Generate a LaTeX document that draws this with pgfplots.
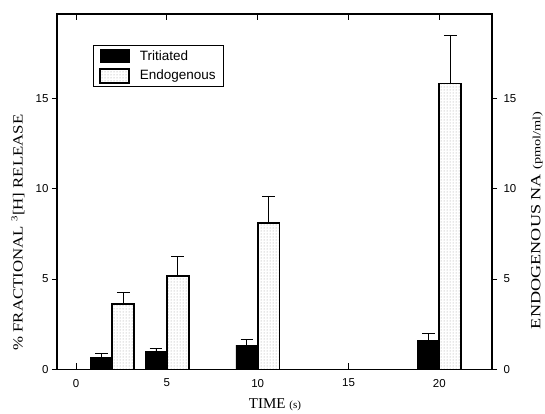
\documentclass[border=0pt]{standalone}
\usepackage{pgfplots}
\pgfplotsset{compat=1.18}
\usepackage{pgfplotstable}
\usepackage{fontspec}
\setmainfont{Liberation Sans}
\newfontfamily\labelfont{Liberation Serif}
\usetikzlibrary{patterns}

% time (s), mean release, upper error
\pgfplotstableread{
t   y     ey
2   0.67  0.23
5   1.00  0.17
10  1.35  0.32
20  1.63  0.37
}\tritiated
\pgfplotstableread{
t   y     ey
2   3.60  0.67
5   5.17  1.10
10  8.08  1.51
20  15.81 2.63
}\endogenous

\pgfplotsset{
  common/.style={
    width=435pt, height=355.5pt, scale only axis,
    xmin=-1.05, xmax=22.9, ymin=0, ymax=19.65,
    axis line style={line width=1.1pt},
    tick style={line width=0.9pt, black},
    /pgf/number format/assume math mode=true,
    ticklabel style={font=\fontsize{11.5}{13}\selectfont},
  },
}

\begin{document}
\begin{tikzpicture}
% bars, x axis and legend
\begin{axis}[common,
  clip=false,
  ybar, bar width=1.2,
  xtick={0,5,10,15,20}, ytick=\empty,
  tick align=inside, major tick length=6pt,
  xticklabel style={yshift=-6pt},
  legend style={at={(0.082,0.913)}, anchor=north west, draw=black,
    line width=0.9pt, font=\fontsize{13.5}{15}\selectfont,
    inner xsep=6pt, inner ysep=3pt, row sep=4.5pt,
    /tikz/every odd column/.append style={column sep=8pt}},
  legend cell align=left,
  legend image code/.code={\draw[#1] (0pt,-6.8pt) rectangle (29pt,6.8pt);},
  error bars/y dir=plus, error bars/y explicit,
  error bars/error bar style={line width=0.8pt, black},
  error bars/error mark options={rotate=90, line width=0.8pt, mark size=6.3pt, black},
]
\addplot[fill=black, draw=black, line width=0.8pt, bar shift=-0.6]
  table[x=t, y=y, y error=ey] {\tritiated};
\addlegendentry{Tritiated}
\addplot[draw=black, line width=1.8pt, pattern=dots, pattern color=black!40, bar shift=0.6]
  table[x=t, y=y, y error=ey] {\endogenous};
\addlegendentry{Endogenous}
\coordinate (sw) at (rel axis cs:0,0);
\coordinate (ne) at (rel axis cs:1,1);
\node[font=\labelfont\fontsize{14}{16}\selectfont, rotate=90] at (rel axis cs:-0.0897,0.385)
  {\scalebox{1.2}[1]{\% FRACTIONAL \textsuperscript{\fontsize{9}{10}\selectfont 3}[H] RELEASE}};
\node[font=\labelfont] at (rel axis cs:0.501,-0.0999)
  {\fontsize{15}{17}\selectfont TIME \fontsize{11}{12}\selectfont(s)};
\node[font=\labelfont, rotate=90] at (rel axis cs:1.103,0.42)
  {\scalebox{1.3}[1]{\fontsize{14}{16}\selectfont ENDOGENOUS NA \fontsize{11}{12}\selectfont(pmol/ml)}};
\end{axis}
% left scale
\begin{axis}[common,
  hide x axis, axis y line*=left,
  ytick={0,5,10,15}, tick align=outside, major tick length=5pt,
]
\end{axis}
% right scale
\begin{axis}[common,
  hide x axis, axis y line*=right,
  ytick={0,5,10,15}, tick align=outside, major tick length=5pt,
  yticklabel style={xshift=3pt},
]
\end{axis}
\pgfresetboundingbox
\path[use as bounding box] ([xshift=-57pt,yshift=-44.5pt]sw) rectangle ([xshift=53pt,yshift=14pt]ne);
\end{tikzpicture}
\end{document}
